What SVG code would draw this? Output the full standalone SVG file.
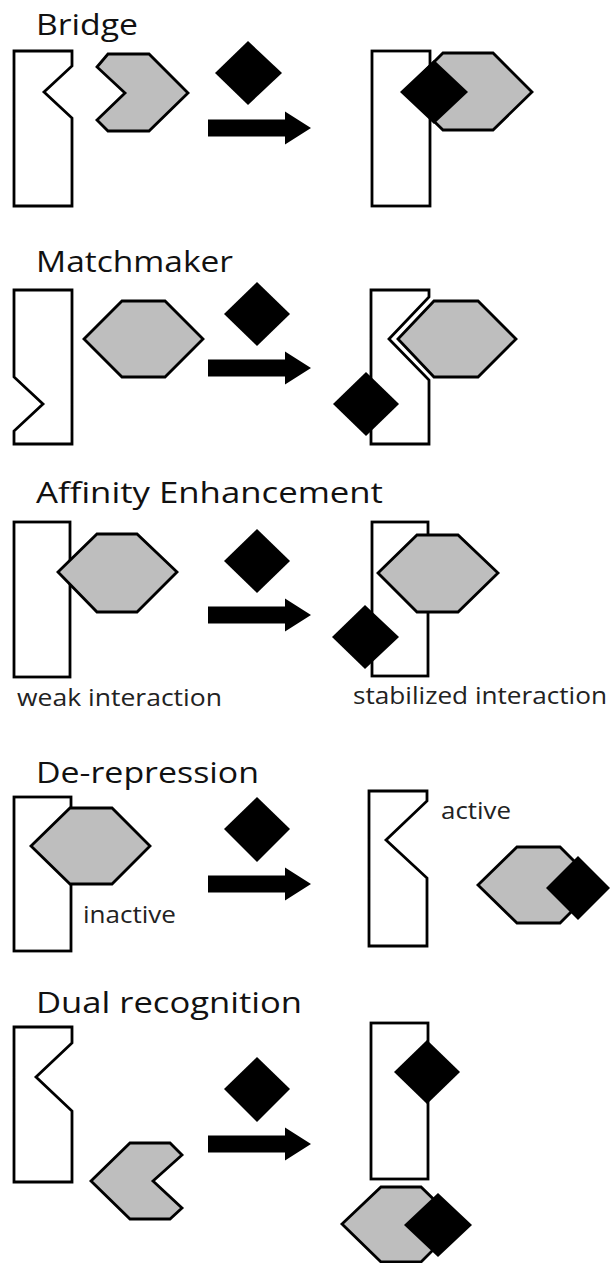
<svg xmlns="http://www.w3.org/2000/svg" xmlns:xlink="http://www.w3.org/1999/xlink" width="610" height="1263" viewBox="0 0 610 1263">
<style>
.rec{fill:#fff;stroke:#000;stroke-width:2.8;stroke-linejoin:miter}
.prot{fill:#bebebe;stroke:#000;stroke-width:2.8;stroke-linejoin:miter}
.lig{fill:#000;stroke:none}
.title{font-family:"Open Sans","Noto Sans",sans-serif;font-size:30px;fill:#111}
.lbl{font-family:"Open Sans","Noto Sans",sans-serif;font-size:23px;fill:#222}
.arr{fill:#000}
</style>
<defs>
<path id="arrow" class="arr" d="M208,-8.5 H285 V-16.5 L311,0 L285,16.5 V8.5 H208 Z"/>
</defs>
<rect width="610" height="1263" fill="#fff"/>

<g id="labels">
<text class="title" x="36" y="35" textLength="102" lengthAdjust="spacingAndGlyphs">Bridge</text>
<text class="title" x="36" y="272" textLength="197" lengthAdjust="spacingAndGlyphs">Matchmaker</text>
<text class="title" x="36" y="503" textLength="347" lengthAdjust="spacingAndGlyphs">Affinity Enhancement</text>
<text class="lbl" x="17" y="706" textLength="205" lengthAdjust="spacingAndGlyphs">weak interaction</text>
<text class="lbl" x="353" y="704" textLength="254" lengthAdjust="spacingAndGlyphs">stabilized interaction</text>
<text class="title" x="36" y="783" textLength="223" lengthAdjust="spacingAndGlyphs">De-repression</text>
<text class="lbl" x="83" y="923" textLength="93" lengthAdjust="spacingAndGlyphs">inactive</text>
<text class="lbl" x="441" y="819" textLength="70" lengthAdjust="spacingAndGlyphs">active</text>
<text class="title" x="36" y="1013" textLength="266" lengthAdjust="spacingAndGlyphs">Dual recognition</text>
</g>

<!-- Bridge -->
<g id="bridge-before">
<polygon class="rec" points="14,51 72,51 72,66 44,92 72,118 72,206 14,206"/>
<polygon class="prot" points="108,54 149,54 188,93 149,131 108,131 97,120 125,93 97,67"/>
<polygon class="lig" points="248,41 282,73 248,105 215,73"/>
</g>
<g id="bridge-after">
<rect class="rec" x="372" y="51" width="58" height="155"/>
<polygon class="prot" points="443,53 493,53 532,92 493,130 443,130 404,92"/>
<polygon class="lig" points="434,60 468,92 434,124 400,92"/>
</g>

<!-- Matchmaker -->
<g id="matchmaker-before">
<polygon class="rec" points="14,290 72,290 72,444 14,444 14,431 43,404 14,377"/>
<polygon class="prot" points="84,339 122,301 165,301 203,339 165,377 122,377"/>
<polygon class="lig" points="257,282 290,314 257,346 224,314"/>
</g>
<g id="matchmaker-after">
<polygon class="rec" points="371,290 429,290 429,297 389,339 429,380 429,444 371,444"/>
<polygon class="prot" points="398,339 434,301 478,301 516,339 478,377 434,377"/>
<polygon class="lig" points="366,372 399,404 366,436 333,404"/>
</g>

<!-- Affinity Enhancement -->
<g id="affinity-before">
<rect class="rec" x="14" y="522" width="56" height="155"/>
<polygon class="prot" points="58,572 97,534 137,534 177,572 137,612 97,612"/>
<polygon class="lig" points="257,529 290,561 257,593 224,561"/>
</g>
<g id="affinity-after">
<rect class="rec" x="372" y="522" width="56" height="154"/>
<polygon class="prot" points="378,573 417,535 458,535 498,573 458,612 417,612"/>
<polygon class="lig" points="365,605 399,637 365,669 332,637"/>
</g>

<!-- De-repression -->
<g id="derepression-before">
<rect class="rec" x="14" y="797" width="57" height="154"/>
<polygon class="prot" points="31,846 70,808 112,808 150,846 112,884 70,884"/>
<polygon class="lig" points="257,797 290,829 257,862 224,829"/>
</g>
<g id="derepression-after">
<polygon class="rec" points="369,791 427,791 427,801 386,840 427,878 427,946 369,946"/>
<polygon class="prot" points="478,885 517,847 560,847 598,885 560,923 517,923"/>
<polygon class="lig" points="578,856 610,888 578,920 546,888"/>
</g>

<!-- Dual recognition -->
<g id="dual-before">
<polygon class="rec" points="14,1027 72,1027 72,1043 36,1077 72,1111 72,1182 14,1182"/>
<polygon class="prot" points="91,1181 130,1143 170,1143 182,1155 153,1181 182,1208 170,1219 130,1219"/>
<polygon class="lig" points="257,1057 290,1089 257,1122 224,1089"/>
</g>
<g id="dual-after">
<rect class="rec" x="371" y="1023" width="57" height="156"/>
<polygon class="lig" points="427,1040 460,1072 427,1104 394,1072"/>
<polygon class="prot" points="342,1224 381,1187 421,1187 459,1224 421,1262 381,1262"/>
<polygon class="lig" points="438,1193 472,1225 438,1257 404,1225"/>
</g>

<g id="connectors">
<use xlink:href="#arrow" href="#arrow" transform="translate(0,128)"/>
<use xlink:href="#arrow" href="#arrow" transform="translate(0,368)"/>
<use xlink:href="#arrow" href="#arrow" transform="translate(0,615)"/>
<use xlink:href="#arrow" href="#arrow" transform="translate(0,884)"/>
<use xlink:href="#arrow" href="#arrow" transform="translate(0,1144)"/>
</g>
</svg>
